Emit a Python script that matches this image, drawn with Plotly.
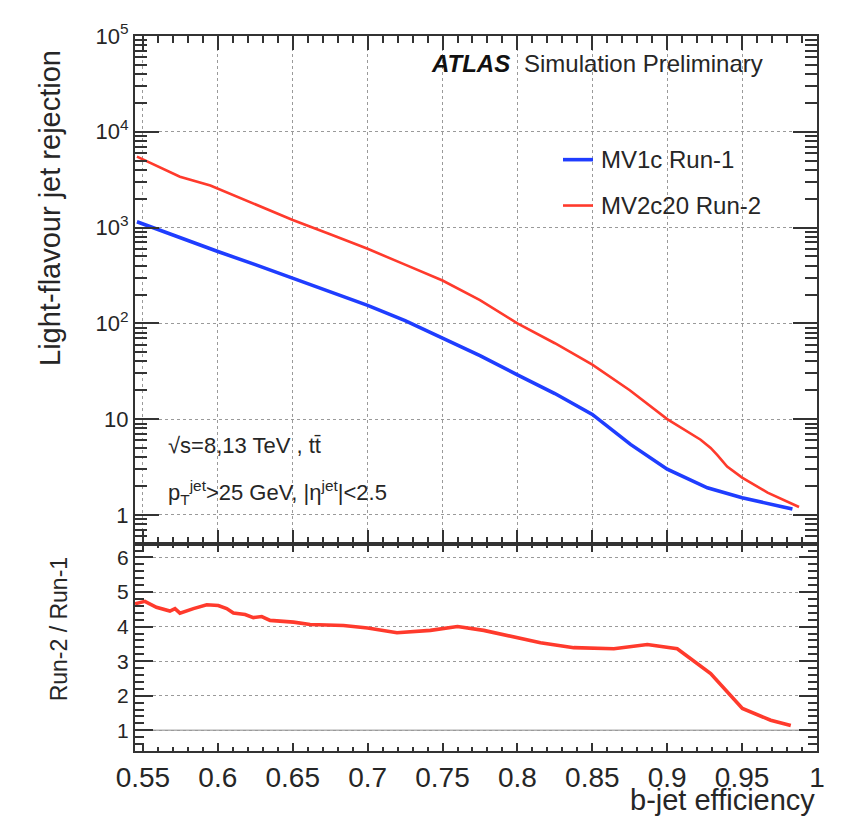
import plotly.graph_objects as go

# ---------------- data ----------------
eff_run1 = [0.546, 0.575, 0.600, 0.625, 0.650, 0.675, 0.700, 0.725, 0.750, 0.775,
            0.800, 0.825, 0.850, 0.8755, 0.900, 0.9268, 0.950, 0.9675, 0.9836]
rej_run1 = [1150, 780, 562, 410, 297, 215, 154, 107, 71, 46,
            29, 18.5, 11.2, 5.45, 3.0, 1.92, 1.51, 1.30, 1.15]

eff_run2 = [0.546, 0.5747, 0.595, 0.620, 0.650, 0.675, 0.700, 0.725, 0.750, 0.775,
            0.800, 0.825, 0.850, 0.875, 0.900, 0.9223, 0.929, 0.9335, 0.940, 0.950,
            0.967, 0.988]
rej_run2 = [5500, 3400, 2750, 1900, 1200, 850, 600, 410, 280, 175,
            100, 62, 37, 20, 10.0, 6.1, 5.0, 4.2, 3.2, 2.45,
            1.71, 1.21]

eff_ratio = [0.5447, 0.5513, 0.559, 0.568, 0.5714, 0.5747, 0.5837, 0.5926, 0.6003,
             0.6059, 0.6104, 0.6182, 0.6237, 0.6293, 0.6349, 0.6505, 0.6616, 0.6839,
             0.700, 0.7196, 0.7419, 0.760, 0.7775, 0.7998, 0.8154, 0.8376, 0.8644,
             0.8867, 0.9067, 0.929, 0.9502, 0.9691, 0.9825]
ratio = [4.66, 4.73, 4.56, 4.45, 4.52, 4.39, 4.52, 4.63, 4.61,
         4.52, 4.39, 4.35, 4.26, 4.29, 4.18, 4.13, 4.06, 4.03,
         3.96, 3.82, 3.89, 4.00, 3.89, 3.68, 3.53, 3.39, 3.36,
         3.48, 3.36, 2.64, 1.63, 1.29, 1.14]

x_ticks = [0.55, 0.6, 0.65, 0.7, 0.75, 0.8, 0.85, 0.9, 0.95, 1.0]
x_tick_text = ["0.55", "0.6", "0.65", "0.7", "0.75", "0.8", "0.85", "0.9", "0.95", "1"]
y_ticks = [1, 10, 100, 1000, 10000, 100000]
y_tick_text = ["1", "10", "10<sup>2</sup>", "10<sup>3</sup>", "10<sup>4</sup>", "10<sup>5</sup>"]
r_ticks = [1, 2, 3, 4, 5, 6]
r_tick_text = ["1", "2", "3", "4", "5", "6"]

names = ["MV1c Run-1", "MV2c20 Run-2"]
BLUE = "#1f3dff"
RED = "#ff3a2c"

FONT = "Liberation Sans, Arial, sans-serif"
TXT = "#262626"
FRAME = "#333333"
GRID = "#9a9a9a"

fig = go.Figure()
fig.add_trace(go.Scatter(x=eff_run1, y=rej_run1, mode="lines", name=names[0],
                         line=dict(color=BLUE, width=3.6), xaxis="x", yaxis="y",
                         showlegend=False))
fig.add_trace(go.Scatter(x=eff_run2, y=rej_run2, mode="lines", name=names[1],
                         line=dict(color=RED, width=2.6), xaxis="x", yaxis="y",
                         showlegend=False))
fig.add_trace(go.Scatter(x=eff_ratio, y=ratio, mode="lines", name="ratio",
                         line=dict(color=RED, width=3.6), xaxis="x2", yaxis="y2",
                         showlegend=False))

split = 0.29
xr = [0.5447, 1.0]

common_x = dict(range=xr, showline=True, linecolor=FRAME, linewidth=2, mirror="ticks",
                ticks="inside", tickcolor=FRAME, tickwidth=1.5,
                tickvals=x_ticks, zeroline=False)

# the page adds an 8 px body margin, so the figure is 8 px smaller on each axis
fig.update_layout(
    width=846, height=810,
    margin=dict(l=127, r=37, t=26, b=67),
    paper_bgcolor="white", plot_bgcolor="white",
    font=dict(family=FONT, color=TXT),
    xaxis=dict(**common_x, anchor="y", showticklabels=False, ticklen=14,
               showgrid=True, gridcolor=GRID, griddash="3px,3px", gridwidth=1,
               minor=dict(dtick=0.01, tick0=0.55, ticks="inside", ticklen=7,
                          tickcolor=FRAME, showgrid=False)),
    xaxis2=dict(**common_x, anchor="y2", matches="x", ticklen=8,
                ticktext=x_tick_text, tickfont=dict(size=28, family=FONT, color=TXT),
                showgrid=False,
                minor=dict(dtick=0.01, tick0=0.55, ticks="inside", ticklen=4,
                           tickcolor=FRAME, showgrid=False)),
    yaxis=dict(type="log", range=[-0.30, 5.0], domain=[split, 1.0], anchor="x",
               showline=True, linecolor=FRAME, linewidth=2, mirror="ticks",
               ticks="inside", ticklen=24, tickcolor=FRAME, tickwidth=1.5,
               tickvals=y_ticks, ticktext=y_tick_text,
               tickfont=dict(size=22, family=FONT, color=TXT),
               showgrid=True, gridcolor=GRID, griddash="3px,3px", gridwidth=1,
               zeroline=False,
               minor=dict(dtick="D1", ticks="inside", ticklen=12, tickcolor=FRAME,
                          showgrid=False)),
    yaxis2=dict(range=[0.4, 6.4], domain=[0.0, split], anchor="x2",
                showline=True, linecolor=FRAME, linewidth=2, mirror="ticks",
                ticks="inside", ticklen=18, tickcolor=FRAME, tickwidth=1.5,
                tickvals=r_ticks, ticktext=r_tick_text,
                tickfont=dict(size=21, family=FONT, color=TXT),
                showgrid=True, gridcolor=GRID, griddash="3px,3px", gridwidth=1,
                zeroline=False,
                minor=dict(dtick=0.2, tick0=0, ticks="inside", ticklen=9,
                           tickcolor=FRAME, showgrid=False)),
)

# solid reference line at ratio = 1
fig.add_shape(type="line", xref="x2 domain", yref="y2", x0=0, x1=1, y0=1, y1=1,
              line=dict(color="#b0b0b0", width=1.5), layer="below")

# helpers: page pixel -> paper coordinates (plot area spans 135..817 x 34..751 on page)
def px_x(px):
    return (px - 135) / 682.0

def px_y(py):
    return (751 - py) / 717.0

ann = []
# axis titles
ann.append(dict(text="Light-flavour jet rejection", textangle=-90,
                x=px_x(50), y=px_y(46), xref="paper", yref="paper",
                xanchor="center", yanchor="top", showarrow=False,
                font=dict(size=29, family=FONT, color=TXT)))
ann.append(dict(text="Run-2 / Run-1", textangle=-90,
                x=px_x(59), y=px_y(629), xref="paper", yref="paper",
                xanchor="center", yanchor="middle", showarrow=False,
                font=dict(size=23, family=FONT, color=TXT)))
ann.append(dict(text="b-jet efficiency", x=1.0, y=px_y(800), xref="paper", yref="paper",
                xanchor="right", yanchor="middle", showarrow=False,
                font=dict(size=29, family=FONT, color=TXT)))
# ATLAS label
ann.append(dict(text="<b><i>ATLAS</i></b>", x=px_x(429), y=px_y(62), xref="paper",
                yref="paper", xanchor="left", yanchor="middle", showarrow=False,
                font=dict(size=24, family=FONT, color="#111111")))
ann.append(dict(text="Simulation Preliminary", x=px_x(522), y=px_y(62), xref="paper",
                yref="paper", xanchor="left", yanchor="middle", showarrow=False,
                font=dict(size=24, family=FONT, color=TXT)))
# legend
for name, color, py, w in [(names[0], BLUE, 158, 3.6), (names[1], RED, 204, 2.6)]:
    fig.add_shape(type="line", xref="paper", yref="paper",
                  x0=px_x(563), x1=px_x(593), y0=px_y(py), y1=px_y(py),
                  line=dict(color=color, width=w))
    ann.append(dict(text=name, x=px_x(599), y=px_y(py), xref="paper", yref="paper",
                    xanchor="left", yanchor="middle", showarrow=False,
                    font=dict(size=24, family=FONT, color=TXT)))
# conditions
ann.append(dict(text="√s=8,13 TeV , tt\u0304", x=px_x(166), y=px_y(445),
                xref="paper", yref="paper", xanchor="left", yanchor="middle",
                showarrow=False, font=dict(size=22, family=FONT, color=TXT)))
ann.append(dict(text="p<sub>T</sub><sup>jet</sup>&gt;25 GeV, |η<sup>jet</sup>|&lt;2.5",
                x=px_x(166), y=px_y(492), xref="paper", yref="paper",
                xanchor="left", yanchor="middle", showarrow=False,
                font=dict(size=22, family=FONT, color=TXT)))

fig.update_layout(annotations=ann)
fig.write_html("out.html")
